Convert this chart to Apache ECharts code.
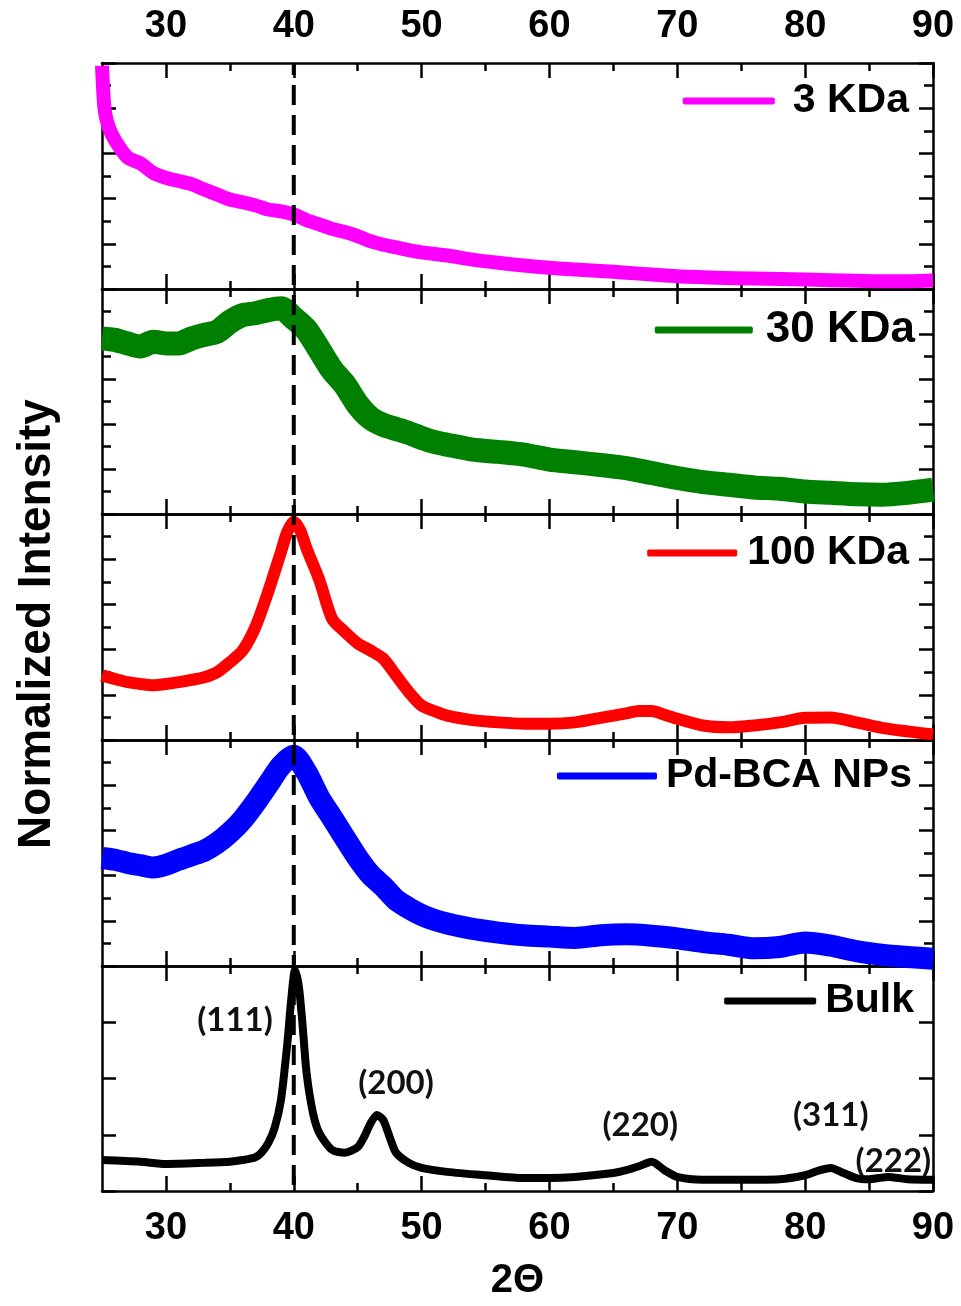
<!DOCTYPE html>
<html>
<head>
<meta charset="utf-8">
<title>XRD patterns of Pd samples</title>
<script src="https://cdn.jsdelivr.net/npm/echarts@6/dist/echarts.min.js"></script>
<style>
  html, body { margin: 0; padding: 0; background: #fff; }
  #chart { width: 961px; height: 1306px; }
</style>
</head>
<body>
<div id="chart"></div>
<script>
// ---- 2θ axis ticks ----
const majorTicks = [30, 40, 50, 60, 70, 80, 90];
const minorTicks = [35, 45, 55, 65, 75, 85];
const refAngle = 40;          // Pd (111) reference position

// ---- series ----
const seriesNames = ['3 KDa', '30 KDa', '100 KDa', 'Pd-BCA NPs', 'Bulk'];

const angle3k = [25.0, 25.2, 25.5, 26, 27, 28, 29, 30, 31, 32, 33, 34, 35, 36, 37, 38, 39, 40, 41, 42, 43, 44, 45, 46, 47, 48, 49, 50, 52, 54, 56, 58, 60, 62, 64, 66, 68, 70, 73, 76, 80, 84, 87, 90];
const int3k   = [4.94, 3.98, 3.6, 3.3, 2.91, 2.78, 2.57, 2.46, 2.39, 2.32, 2.2, 2.09, 1.98, 1.92, 1.85, 1.76, 1.72, 1.65, 1.52, 1.43, 1.33, 1.26, 1.17, 1.06, 0.98, 0.92, 0.86, 0.81, 0.74, 0.65, 0.58, 0.52, 0.47, 0.43, 0.4, 0.36, 0.32, 0.28, 0.25, 0.23, 0.21, 0.18, 0.17, 0.19];

const angle30k = [25, 26, 27, 28, 29, 30, 31, 32, 33, 34, 35, 36, 37, 38, 39, 40, 41, 42, 43, 44, 45, 46, 47, 48, 49, 50, 51, 52, 54, 56, 58, 60, 62, 64, 66, 68, 70, 72, 74, 76, 78, 80, 82, 84, 86, 88, 90];
const int30k   = [3.9, 3.87, 3.79, 3.72, 3.83, 3.79, 3.79, 3.9, 3.98, 4.05, 4.27, 4.42, 4.46, 4.53, 4.57, 4.35, 4.09, 3.65, 3.2, 2.87, 2.43, 2.13, 1.98, 1.89, 1.8, 1.69, 1.6, 1.54, 1.43, 1.38, 1.32, 1.21, 1.15, 1.09, 1.02, 0.91, 0.8, 0.71, 0.65, 0.59, 0.56, 0.5, 0.47, 0.44, 0.43, 0.47, 0.54];

const angle100k = [25, 26, 27, 28, 29, 30, 31, 32, 33, 34, 35, 36, 37, 38, 39, 39.5, 40, 40.5, 41, 42, 43, 44, 45, 46, 47, 48, 49, 50, 51, 52, 54, 56, 58, 60, 62, 64, 66, 67, 68, 69, 70, 72, 74, 76, 78, 80, 82, 84, 86, 88, 90];
const int100k   = [1.43, 1.35, 1.28, 1.24, 1.21, 1.24, 1.28, 1.33, 1.39, 1.5, 1.72, 1.98, 2.5, 3.28, 4.16, 4.61, 4.83, 4.64, 4.24, 3.54, 2.68, 2.39, 2.14, 1.98, 1.8, 1.43, 1.06, 0.76, 0.64, 0.54, 0.44, 0.39, 0.36, 0.36, 0.39, 0.49, 0.59, 0.64, 0.64, 0.56, 0.47, 0.32, 0.28, 0.32, 0.39, 0.49, 0.5, 0.39, 0.27, 0.19, 0.12];

const angleBCA = [25, 26, 27, 28, 29, 30, 31, 32, 33, 34, 35, 36, 37, 38, 39, 40, 41, 42, 43, 44, 45, 46, 47, 48, 49, 50, 51, 52, 54, 56, 58, 60, 62, 64, 66, 68, 70, 72, 74, 76, 78, 80, 82, 84, 86, 88, 90];
const intBCA   = [2.39, 2.35, 2.28, 2.23, 2.18, 2.24, 2.35, 2.45, 2.55, 2.72, 2.95, 3.24, 3.61, 4.02, 4.43, 4.65, 4.28, 3.72, 3.28, 2.83, 2.39, 2.02, 1.76, 1.46, 1.28, 1.13, 1.02, 0.94, 0.82, 0.74, 0.68, 0.65, 0.62, 0.68, 0.7, 0.67, 0.61, 0.53, 0.47, 0.39, 0.42, 0.52, 0.45, 0.33, 0.25, 0.2, 0.16];

const angleBulk = [25, 28, 30, 33, 35, 36, 37, 37.5, 38, 38.5, 39, 39.5, 39.8, 40.1, 40.4, 40.7, 41, 41.5, 42, 43, 44, 45, 45.5, 46, 46.5, 47, 47.5, 48, 49, 50, 52, 55, 58, 60, 62, 65, 66, 67, 68, 69, 70, 72, 75, 78, 80, 81, 82, 83, 84, 85, 86.5, 88, 90];
const intBulk   = [0.55, 0.52, 0.48, 0.5, 0.52, 0.55, 0.6, 0.69, 0.85, 1.12, 1.62, 2.63, 3.4, 3.93, 3.63, 2.92, 2.1, 1.39, 1.03, 0.73, 0.68, 0.78, 0.96, 1.2, 1.35, 1.26, 0.96, 0.68, 0.5, 0.41, 0.34, 0.28, 0.23, 0.23, 0.25, 0.32, 0.37, 0.44, 0.52, 0.37, 0.25, 0.2, 0.2, 0.21, 0.28, 0.36, 0.41, 0.32, 0.23, 0.21, 0.25, 0.21, 0.2];

// Miller indices of the bulk reflections and where their labels sit (data units)
const hklLabels = ['(111)', '(200)', '(220)', '(311)', '(222)'];
const hklAngle  = [35.4, 48.0, 67.1, 82.0, 86.9];
const hklHeight = [3.04, 1.92, 1.17, 1.35, 0.52];

const angles = [angle3k, angle30k, angle100k, angleBCA, angleBulk];
const intensities = [int3k, int30k, int100k, intBCA, intBulk];

// ---- layout / style ----
const FONT = '"Liberation Sans", Arial, sans-serif';
const panelTops    = [63, 289, 514, 740, 966];
const panelHeights = [226, 225, 226, 226, 225];
const panelYMax    = [5, 5, 5, 5, 4];
const panelMinor   = [true, true, true, true, false];
const colors       = ['#ff00ff', '#008000', '#ff0000', '#0000ff', '#000000'];
const lineWidths   = [14, 24, 12, 22, 8];
const legendTop    = [80, 308, 532, 755, 980];
const legendRight  = [52, 46, 52, 49, 47];
const legendIconW  = [92, 98, 90, 100, 92];
const legendPad    = [13, 8, 5, 4, 4];
const legendFont   = [41, 44, 41, 41, 41];

const AX = { color: '#000', width: 2.5 };

function xAxisDef(i, pos, ticks, len, showLine, showLabels) {
  return {
    gridIndex: i, type: 'value', min: 25, max: 90, position: pos,
    axisLine: { show: showLine, onZero: false, lineStyle: AX },
    axisTick: { show: true, inside: true, length: len, customValues: ticks, lineStyle: AX },
    axisLabel: showLabels ? {
      show: true, customValues: majorTicks, margin: pos === 'top' ? 17 : 19,
      color: '#000', fontSize: 38, fontWeight: 'bold', fontFamily: FONT
    } : { show: false },
    splitLine: { show: false }
  };
}

function yAxisDef(i, pos) {
  return {
    gridIndex: i, type: 'value', min: 0, max: panelYMax[i], interval: 1, position: pos,
    axisLine: { show: true, onZero: false, lineStyle: AX },
    axisTick: { show: true, inside: true, length: 14, lineStyle: AX },
    minorTick: { show: panelMinor[i], splitNumber: 2, length: 9, lineStyle: AX },
    axisLabel: { show: false },
    splitLine: { show: false },
    minorSplitLine: { show: false }
  };
}

const grid = [], xAxis = [], yAxis = [], series = [], legend = [];

for (let i = 0; i < 5; i++) {
  grid.push({ left: 102, right: 28, top: panelTops[i], height: panelHeights[i] });
  xAxis.push(xAxisDef(i, 'bottom', majorTicks, 15, true, i === 4));
  xAxis.push(xAxisDef(i, 'bottom', minorTicks, 8, false, false));
  xAxis.push(xAxisDef(i, 'top', majorTicks, 15, true, i === 0));
  xAxis.push(xAxisDef(i, 'top', minorTicks, 8, false, false));
  yAxis.push(yAxisDef(i, 'left'));
  yAxis.push(yAxisDef(i, 'right'));

  const s = {
    name: seriesNames[i], type: 'line', xAxisIndex: 4 * i, yAxisIndex: 2 * i,
    data: angles[i].map((a, k) => [a, intensities[i][k]]),
    showSymbol: false, symbol: 'none', silent: true, z: 2,
    smooth: 0.25,
    lineStyle: { color: colors[i], width: lineWidths[i], join: 'round', cap: 'butt' },
    itemStyle: { color: colors[i] }
  };
  if (i === 4) {
    s.markPoint = {
      symbol: 'circle', symbolSize: 0, silent: true,
      label: {
        show: true, position: 'inside', formatter: p => p.name,
        color: '#111', fontSize: 33, fontWeight: 'bold', fontFamily: 'Lato, "Open Sans", sans-serif'
      },
      data: hklLabels.map((t, k) => ({ name: t, coord: [hklAngle[k], hklHeight[k]] }))
    };
  }
  series.push(s);

  legend.push({
    data: [seriesNames[i]], right: legendRight[i], top: legendTop[i], padding: 0,
    icon: 'roundRect', itemWidth: legendIconW[i], itemHeight: 7, itemGap: 0,
    selectedMode: false,
    textStyle: {
      color: '#000', fontSize: legendFont[i], fontWeight: 'bold', fontFamily: FONT,
      lineHeight: 42, padding: [0, 0, 0, legendPad[i]]
    }
  });
}

// full-height overlay: reference line and axis titles
grid.push({ left: 102, right: 28, top: 63, bottom: 115 });
xAxis.push({
  gridIndex: 5, type: 'value', min: 25, max: 90,
  axisLine: { show: false }, axisTick: { show: false }, axisLabel: { show: false }, splitLine: { show: false },
  name: '2Θ', nameLocation: 'middle', nameGap: 76,
  nameTextStyle: { color: '#000', fontSize: 40, fontWeight: 'bold', fontFamily: FONT }
});
yAxis.push({
  gridIndex: 5, type: 'value', min: 0, max: 1,
  axisLine: { show: false }, axisTick: { show: false }, axisLabel: { show: false }, splitLine: { show: false },
  name: 'Normalized Intensity', nameLocation: 'middle', nameGap: 42,
  nameTextStyle: { color: '#000', fontSize: 46, fontWeight: 'bold', fontFamily: FONT }
});
series.push({
  name: 'ref', type: 'line', xAxisIndex: 20, yAxisIndex: 10, silent: true, z: 5,
  showSymbol: false, symbol: 'none',
  data: [[refAngle, 0], [refAngle, 1]],
  lineStyle: { color: '#000', width: 4, type: [20, 10] }
});

const chart = echarts.init(document.getElementById('chart'), null, { renderer: 'canvas' });
chart.setOption({
  animation: false,
  backgroundColor: '#fff',
  grid, xAxis, yAxis, series, legend
});
</script>
</body>
</html>
